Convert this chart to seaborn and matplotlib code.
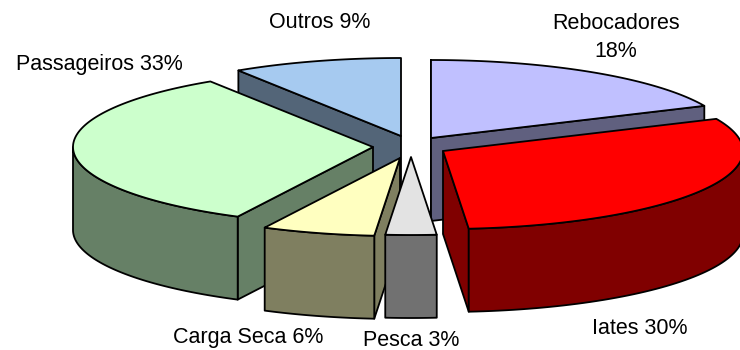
import numpy as np
import matplotlib
matplotlib.use("Agg")
import matplotlib.pyplot as plt
import seaborn as sns

categories = ["Rebocadores", "Iates", "Pesca", "Carga Seca", "Passageiros", "Outros"]
shares = [18, 30, 2.7, 6, 33, 9]
label_texts = ["Rebocadores\n18%", "Iates 30%", "Pesca 3%", "Carga Seca 6%", "Passageiros 33%", "Outros 9%"]
top_colors = ["#C0C0FF", "#FF0000", "#E3E3E3", "#FFFFC0", "#CCFFCC", "#A6CAF0"]
side_colors = ["#60607F", "#800000", "#717171", "#7F7F60", "#668066", "#536578"]

sns.set_style("white")
plt.rcParams["font.family"] = ["Liberation Sans", "DejaVu Sans"]

W, H = 740, 350
fig = plt.figure(figsize=(W / 100, H / 100), dpi=100)
ax = fig.add_axes([0, 0, 1, 1])
ax.set_xlim(0, W)
ax.set_ylim(H, 0)
ax.axis("off")

RX, RY = 300, 78       # ellipse radii of the tilted pie
DEPTH = 83
# layout: where the tip of each exploded slice sits
tips = [(431, 138), (443, 151), (411, 157), (400, 158), (373, 147), (401, 136)]
label_pos = [(616, 37.5), (640, 329), (411, 340), (248, 337), (99, 64.5), (320, 22)]


def pt(theta):
    return np.array([RX * np.sin(theta), -RY * np.cos(theta)])


def poly(xy, color, z):
    ax.fill(*np.asarray(xy).T, facecolor=color, edgecolor="black", lw=1.3, zorder=z, joinstyle="round")


ends = np.cumsum(shares) / np.sum(shares) * 2 * np.pi
starts = np.r_[0, ends[:-1]]

# draw from the back of the pie to the front
order = [5, 0, 4, 1, 3, 2]
for z, i in enumerate(order):
    a, b = starts[i], ends[i]
    mid = (a + b) / 2
    apex = np.array(tips[i], dtype=float)
    down = np.array([0, DEPTH])
    base = 10 * z
    m = pt(mid)
    for edge in (a, b):
        e = pt(edge)
        cross = e[0] * m[1] - e[1] * m[0]
        # the wall is seen when the slice lies behind the radial edge
        visible = (cross < 0) if e[0] > 0 else (cross > 0)
        if visible:
            p = apex + e
            poly([apex, p, p + down, apex + down], side_colors[i], base + 1)
    lo, hi = max(a, np.pi / 2), min(b, 3 * np.pi / 2)
    if hi > lo:
        arc = np.array([apex + pt(t) for t in np.linspace(lo, hi, 60)])
        poly(np.vstack([arc, arc[::-1] + down]), side_colors[i], base + 2)
    rim = np.array([apex + pt(t) for t in np.linspace(a, b, 120)])
    poly(np.vstack([apex, rim]), top_colors[i], base + 3)

for text, (x, y) in zip(label_texts, label_pos):
    ax.text(x, y, text, ha="center", va="center", fontsize=15.5, color="black",
            linespacing=1.45, zorder=200)

fig.savefig("out.png", dpi=100)
